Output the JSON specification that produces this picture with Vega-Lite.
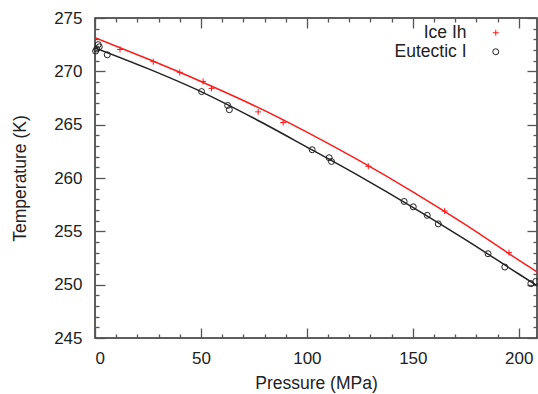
{
  "$schema": "https://vega.github.io/schema/vega-lite/v6.json",
  "width": 442,
  "height": 320,
  "autosize": "none",
  "padding": {"left": 95, "top": 18, "right": 1, "bottom": 56},
  "background": "white",
  "config": {
    "font": "Liberation Sans",
    "view": {"stroke": "#2a2a2a", "strokeWidth": 1.5},
    "axis": {
      "grid": false,
      "domain": false,
      "tickColor": "#555555",
      "tickWidth": 1.3,
      "labelFont": "Liberation Sans",
      "labelFontSize": 17,
      "labelColor": "#222222",
      "titleFont": "Liberation Sans",
      "titleFontSize": 17.5,
      "titleFontWeight": "normal",
      "titleColor": "#222222"
    }
  },
  "data": {
    "values": [
      {"series": "Ice Ih", "kind": "fit", "P": 0, "T": 273.15},
      {"series": "Ice Ih", "kind": "fit", "P": 25, "T": 271.15},
      {"series": "Ice Ih", "kind": "fit", "P": 50, "T": 269.05},
      {"series": "Ice Ih", "kind": "fit", "P": 75, "T": 266.8},
      {"series": "Ice Ih", "kind": "fit", "P": 100, "T": 264.3},
      {"series": "Ice Ih", "kind": "fit", "P": 125, "T": 261.6},
      {"series": "Ice Ih", "kind": "fit", "P": 150, "T": 258.7},
      {"series": "Ice Ih", "kind": "fit", "P": 175, "T": 255.6},
      {"series": "Ice Ih", "kind": "fit", "P": 200, "T": 252.3},
      {"series": "Ice Ih", "kind": "fit", "P": 209, "T": 251.15},
      {"series": "Eutectic I", "kind": "fit", "P": 0, "T": 272.2},
      {"series": "Eutectic I", "kind": "fit", "P": 25, "T": 270.25},
      {"series": "Eutectic I", "kind": "fit", "P": 50, "T": 268.1},
      {"series": "Eutectic I", "kind": "fit", "P": 75, "T": 265.6},
      {"series": "Eutectic I", "kind": "fit", "P": 100, "T": 262.9},
      {"series": "Eutectic I", "kind": "fit", "P": 125, "T": 260.15},
      {"series": "Eutectic I", "kind": "fit", "P": 150, "T": 257.25},
      {"series": "Eutectic I", "kind": "fit", "P": 175, "T": 254.2},
      {"series": "Eutectic I", "kind": "fit", "P": 200, "T": 251.0},
      {"series": "Eutectic I", "kind": "fit", "P": 209, "T": 249.85},
      {"series": "Ice Ih", "kind": "point", "P": 11.8, "T": 272.05},
      {"series": "Ice Ih", "kind": "point", "P": 27.5, "T": 270.9},
      {"series": "Ice Ih", "kind": "point", "P": 40, "T": 269.9},
      {"series": "Ice Ih", "kind": "point", "P": 51, "T": 269.05},
      {"series": "Ice Ih", "kind": "point", "P": 55, "T": 268.4},
      {"series": "Ice Ih", "kind": "point", "P": 77, "T": 266.2},
      {"series": "Ice Ih", "kind": "point", "P": 88.8, "T": 265.2},
      {"series": "Ice Ih", "kind": "point", "P": 129, "T": 261.1},
      {"series": "Ice Ih", "kind": "point", "P": 165, "T": 256.9},
      {"series": "Ice Ih", "kind": "point", "P": 195.4, "T": 253.0},
      {"series": "Eutectic I", "kind": "point", "P": 0.3, "T": 271.9},
      {"series": "Eutectic I", "kind": "point", "P": 0.8, "T": 272.1},
      {"series": "Eutectic I", "kind": "point", "P": 1.5, "T": 272.5},
      {"series": "Eutectic I", "kind": "point", "P": 2.0, "T": 272.3},
      {"series": "Eutectic I", "kind": "point", "P": 5.8, "T": 271.55},
      {"series": "Eutectic I", "kind": "point", "P": 50.3, "T": 268.1},
      {"series": "Eutectic I", "kind": "point", "P": 62.6, "T": 266.8},
      {"series": "Eutectic I", "kind": "point", "P": 63.4, "T": 266.4},
      {"series": "Eutectic I", "kind": "point", "P": 102.5, "T": 262.65},
      {"series": "Eutectic I", "kind": "point", "P": 110.5, "T": 261.9},
      {"series": "Eutectic I", "kind": "point", "P": 111.6, "T": 261.55},
      {"series": "Eutectic I", "kind": "point", "P": 145.9, "T": 257.8},
      {"series": "Eutectic I", "kind": "point", "P": 150.2, "T": 257.3},
      {"series": "Eutectic I", "kind": "point", "P": 156.8, "T": 256.5},
      {"series": "Eutectic I", "kind": "point", "P": 162, "T": 255.7},
      {"series": "Eutectic I", "kind": "point", "P": 185.5, "T": 252.9},
      {"series": "Eutectic I", "kind": "point", "P": 193.4, "T": 251.65},
      {"series": "Eutectic I", "kind": "point", "P": 205.7, "T": 250.1},
      {"series": "Eutectic I", "kind": "point", "P": 208, "T": 250.3}
    ]
  },
  "layer": [
    {
      "transform": [{"filter": "datum.kind === 'fit'"}],
      "mark": {"type": "line", "strokeWidth": 1.5, "clip": true, "interpolate": "monotone"},
      "encoding": {
        "x": {
          "field": "P", "type": "quantitative",
          "scale": {"domain": [0, 208.6], "nice": false, "zero": false},
          "axis": {
            "orient": "top", "title": null, "labels": false,
            "values": [0, 50, 100, 150, 200],
            "tickSize": 10, "offset": -10
          }
        },
        "y": {
          "field": "T", "type": "quantitative",
          "scale": {"domain": [245, 275], "nice": false, "zero": false},
          "axis": {
            "orient": "right", "title": null, "labels": false,
            "values": [245, 250, 255, 260, 265, 270, 275],
            "tickSize": 10, "offset": -10
          }
        },
        "color": {
          "condition": {"test": "datum.series === 'Ice Ih'", "value": "#ff1a1a"},
          "value": "#222222"
        },
        "detail": {"field": "series"}
      }
    },
    {
      "transform": [{"filter": "datum.kind === 'point'"}],
      "mark": {"type": "point", "opacity": 0},
      "encoding": {
        "x": {
          "field": "P", "type": "quantitative",
          "axis": {
            "orient": "top", "title": null, "labels": false,
            "values": [10,20,30,40,60,70,80,90,110,120,130,140,160,170,180,190],
            "tickSize": 4, "offset": -4
          }
        },
        "y": {
          "field": "T", "type": "quantitative",
          "axis": {
            "orient": "right", "title": null, "labels": false,
            "values": [246,247,248,249,251,252,253,254,256,257,258,259,261,262,263,264,266,267,268,269,271,272,273,274],
            "tickSize": 4, "offset": -4
          }
        }
      }
    },
    {
      "transform": [{"filter": "datum.kind === 'point'"}],
      "mark": {"type": "point", "opacity": 0},
      "encoding": {
        "x": {
          "field": "P", "type": "quantitative",
          "axis": {
            "orient": "bottom", "title": null, "labels": false,
            "values": [10,20,30,40,60,70,80,90,110,120,130,140,160,170,180,190],
            "tickSize": 4, "offset": -4
          }
        },
        "y": {
          "field": "T", "type": "quantitative",
          "axis": {
            "orient": "left", "title": null, "labels": false,
            "values": [246,247,248,249,251,252,253,254,256,257,258,259,261,262,263,264,266,267,268,269,271,272,273,274],
            "tickSize": 4, "offset": -4
          }
        }
      }
    },
    {
      "transform": [{"filter": "datum.kind === 'point'"}],
      "mark": {"type": "point", "filled": false, "strokeWidth": 1, "opacity": 1, "clip": false},
      "encoding": {
        "x": {
          "field": "P", "type": "quantitative",
          "axis": {
            "orient": "bottom", "title": "Pressure (MPa)", "titlePadding": 8,
            "values": [0, 50, 100, 150, 200],
            "tickSize": 10, "offset": -10,
            "labelPadding": 12
          }
        },
        "y": {
          "field": "T", "type": "quantitative",
          "axis": {
            "orient": "left", "title": "Temperature (K)", "titlePadding": 24,
            "values": [245, 250, 255, 260, 265, 270, 275],
            "tickSize": 10, "offset": -10,
            "labelPadding": 13
          }
        },
        "color": {
          "field": "series", "type": "nominal",
          "scale": {"domain": ["Ice Ih", "Eutectic I"], "range": ["#ff1a1a", "#222222"]},
          "legend": {
            "title": null, "orient": "none", "legendX": 392, "legendY": 6,
            "labelAlign": "right", "labelOffset": -38, "symbolSize": 36,
            "labelFontSize": 17.5, "labelFont": "Liberation Sans", "labelColor": "#222222",
            "rowPadding": 0, "padding": 0, "symbolStrokeWidth": 1
          }
        },
        "shape": {
          "field": "series", "type": "nominal",
          "scale": {"domain": ["Ice Ih", "Eutectic I"], "range": ["M-1,0L1,0M0,-1L0,1", "circle"]},
          "legend": {
            "title": null, "orient": "none", "legendX": 392, "legendY": 6,
            "labelAlign": "right", "labelOffset": -38, "symbolSize": 36,
            "labelFontSize": 17.5, "labelFont": "Liberation Sans", "labelColor": "#222222",
            "rowPadding": 0, "padding": 0, "symbolStrokeWidth": 1
          }
        },
        "size": {"value": 36}
      }
    }
  ],
  "resolve": {
    "axis": {"x": "independent", "y": "independent"}
  }
}
